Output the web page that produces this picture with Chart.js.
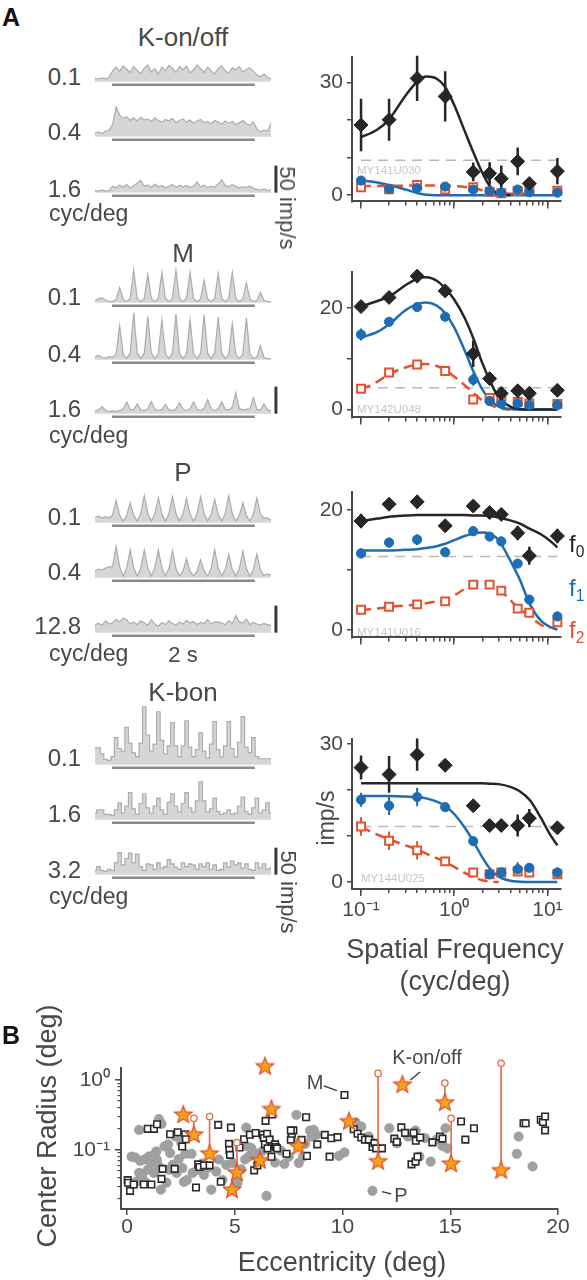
<!DOCTYPE html>
<html><head><meta charset="utf-8">
<script src="https://cdn.jsdelivr.net/npm/chart.js@4.4.1/dist/chart.umd.min.js"></script>
<style>
html,body{margin:0;padding:0;background:#fff;}
#wrap{position:relative;width:587px;height:1280px;overflow:hidden;font-family:"Liberation Sans",Arial,Helvetica,sans-serif;color:#484848;}
#wrap canvas{position:absolute;}
.t{position:absolute;white-space:nowrap;line-height:1;}
.t sub{font-size:65%;vertical-align:-0.3em;}
</style></head><body><div id="wrap"></div>
<script>
// ---------------- DATA ----------------
const T_END = 2.5;
const STIM = [0.24, 2.27];
const SCALEBAR = [0, 50];
const SCALEBAR_T = 2.57;
const KON_01 = [6,5,7,5,8, 20,27,19,29,23,17,28,21,15,25,31,18,24,14,27,20,30,25,17,28,22,29,16,22,31,24,17,27,20,14,25,29,20,16,26,22,28,18,23,26,19, 12,9,14,8,5];
const KON_04 = [7,9,6,10,12, 22,55,40,34,37,30,35,29,36,31,33,28,35,30,27,32,29,34,26,30,33,27,31,25,29,32,26,28,24,30,27,23,29,25,28,22,26,30,24,21,27, 14,9,12,10,25];
const KON_16 = [4,3,5,3,4, 12,9,14,10,15,9,13,18,23,12,14,10,16,11,13,9,12,15,10,14,11,13,10,12,20,11,14,9,12,10,16,24,13,11,15,12,9,11,10,12,8, 6,5,7,4,5];
const M_01 = [4,7,9,5,2,2,6,28,6,2,8,60,8,2,8,52,8,2,8,56,8,2,8,60,8,2,8,56,8,2,7,41,7,2,8,54,8,2,8,56,8,2,7,37,7,2,4,19,4,2,2];
const M_04 = [5,8,4,3,6,4,10,63,10,2,12,87,12,2,12,80,12,2,11,74,11,2,12,85,12,2,11,74,11,2,12,83,12,2,12,79,12,2,10,67,10,2,11,77,11,2,5,26,4,2,2];
const M_16 = [5,7,13,6,4,5,4,6,9,22,8,7,18,7,6,9,22,8,6,8,17,7,6,9,20,8,6,9,22,8,6,10,26,9,6,9,22,8,7,12,39,10,7,8,9,30,8,7,18,7,5];
const P_01 = [10,12,9,11,9,14,41,14,3,13,37,13,3,17,50,17,3,16,46,16,3,17,48,17,3,16,45,16,3,17,48,17,3,15,43,15,3,17,50,17,3,13,37,13,3,16,46,16,8,9,5];
const P_04 = [12,16,14,18,20,20,58,20,3,18,52,18,3,18,51,18,3,18,51,18,3,17,50,17,3,12,35,12,3,12,33,12,3,18,52,18,3,15,43,15,3,17,49,17,3,15,44,15,4,7,5];
const P_128 = [15,17,14,22,16,18,25,20,27,24,16,20,15,22,18,14,24,16,12,19,15,22,17,14,20,16,23,18,21,15,19,17,24,16,20,20,18,15,22,17,32,20,18,25,15,19,16,14,17,15,13];
const KB_01 = [31,31,20,10,8,15,50,30,25,69,40,22,15,40,107,55,25,38,98,45,20,35,78,35,15,35,81,32,15,28,59,25,12,38,80,28,14,35,80,30,14,42,89,32,22,50,15,11,11,11,11];
const KB_16 = [12,18,18,10,10,8,18,31,12,25,50,20,10,30,48,22,12,25,40,18,10,32,48,25,14,30,50,22,14,35,70,35,14,20,40,15,10,12,18,10,12,25,42,15,10,22,40,12,18,31,12];
const KB_32 = [8,15,8,6,10,8,22,41,18,30,40,22,38,15,8,20,18,10,22,12,15,28,20,14,10,22,15,20,18,10,20,15,22,10,18,8,10,22,14,25,18,22,12,20,10,8,22,12,20,10,12];

const SF = [0.1,0.2,0.4,0.8,1.6,2.4,3.2,4.8,6.4,12.8];
const FIT_SF = [0.1,0.15,0.2,0.3,0.4,0.5,0.65,0.8,1.0,1.3,1.6,2.0,2.4,3.0,4.0,5.0,6.5,8.5,10.5,12.8];

const KON_F0 = [18.7,20.1,31.1,26.3,6.2,5.8,4.4,9.0,3.1,6.4];
const KON_F0_ERR = [7,5.6,6,6.7,2.5,3,3.5,3.7,1.5,3.5];
const KON_F1 = [3.9,1.7,1.9,2.3,1.5,1.1,0.7,1.5,0.8,0.7];
const KON_F1_ERR = [0.5,0.4,0.4,0.5,0.4,0.3,0.3,0.4,0.3,0.3];
const KON_F2 = [2.1,1.6,2.7,1.5,2.1,0.9,0.5,1.1,1.3,1.2];
const KON_F2_ERR = [0.4,0.4,0.4,0.4,0.4,0.3,0.3,0.3,0.3,0.3];
const KON_BASE = 9.3;
const KON_FIT0 = [15.4,17.5,20.2,26.5,30.2,31.6,31.0,28.8,24.0,17.0,11.5,6.0,2.5,0.3,0,null,null,null,null,null];
const KON_FIT1 = [3.9,3.4,2.7,1.5,0.6,0.1,0,0,0,0,0,0,0,0,0,0,0,0,0,0];
const KON_FIT2 = [2.4,2.45,2.5,2.55,2.6,2.6,2.55,2.5,2.4,2.2,1.9,1.3,0.8,0.5,0.4,0.4,0.5,null,null,null];

const M_F0 = [20.3,22.1,26.3,23.4,11.0,6.1,3.2,3.7,3.2,3.8];
const M_F0_ERR = [0.8,0.6,0.6,0.6,2.6,0.8,0.5,0.5,0.5,0.5];
const M_F1 = [14.8,17.3,20.2,18.3,5.9,1.7,1.2,1.2,0.9,0.9];
const M_F1_ERR = [1.2,0.6,0.6,0.6,1.2,0.5,0.4,0.4,0.4,0.4];
const M_F2 = [4.1,7.3,8.9,7.6,2.0,2.3,1.7,1.5,1.2,1.1];
const M_F2_ERR = [0.5,0.5,0.5,0.5,0.4,0.4,0.3,0.3,0.3,0.3];
const M_BASE = 4.3;
const M_FIT0 = [20.3,21.4,22.3,24.5,25.8,26.1,25.4,23.9,21.7,18.0,14.1,9.2,5.8,2.4,0.6,0.1,0,0,0,0];
const M_FIT1 = [14.2,15.3,16.8,19.6,20.8,21.1,20.5,19.0,16.2,11.6,7.6,4.0,2.0,0.6,0.1,0,0,0,0,0];
const M_FIT2 = [4.0,5.5,7.0,8.3,8.9,9.0,8.6,7.8,6.5,4.8,3.3,1.8,1.0,0.3,0,null,null,null,null,null];

const P_F0 = [18.2,21.0,21.4,17.4,20.7,19.6,19.3,16.2,12.4,15.7];
const P_F0_ERR = [1.2,1,1.1,1,1,0.8,0.8,1.2,1.5,1.2];
const P_F1 = [12.8,14.6,15.1,13.0,16.5,15.6,14.8,11.1,5.1,2.3];
const P_F1_ERR = [0.8,0.8,0.9,0.6,0.8,0.6,0.6,0.5,0.6,0.4];
const P_F2 = [3.4,3.9,4.3,4.8,7.6,7.6,6.6,3.6,2.9,1.3];
const P_F2_ERR = [0.4,0.4,0.4,0.4,0.4,0.4,0.4,0.4,0.4,0.4];
const P_BASE = 12.3;
const P_FIT0 = [18.2,18.6,18.9,19.1,19.2,19.2,19.2,19.2,19.2,19.2,19.1,19.1,19.0,18.8,18.3,17.8,16.9,16.0,15.0,13.8];
const P_FIT1 = [13.3,13.3,13.3,13.4,13.5,13.7,14.0,14.4,15.0,15.7,16.1,16.3,16.1,15.0,11.6,8.6,4.3,1.6,0.6,0.1];
const P_FIT2 = [3.4,3.6,3.9,4.1,4.3,4.5,4.8,5.1,5.8,6.9,7.6,7.8,7.6,6.9,5.0,3.6,2.3,0.9,0.2,null];

const KB_F0 = [24.9,23.4,27.7,25.4,16.6,12.3,12.3,12.3,13.9,11.8];
const KB_F0_ERR = [2.6,4,3.5,0.8,1.2,0.8,0.8,2.4,2,0.8];
const KB_F1 = [17.9,16.6,18.5,16.3,8.9,1.7,2.1,2.8,3.1,2.1];
const KB_F1_ERR = [1.5,2,2,0.8,1,0.5,0.5,1.5,0.8,0.5];
const KB_F2 = [12.1,9.0,6.9,4.5,2.1,1.7,2.1,2.3,2.1,1.7];
const KB_F2_ERR = [2,2,2,1,1,0.5,0.4,0.4,0.4,0.4];
const KB_BASE = 12.1;
const KB_FIT0 = [21.5,21.5,21.5,21.5,21.5,21.5,21.5,21.5,21.5,21.5,21.5,21.5,21.4,21.3,20.7,19.8,17.8,14.0,10.6,8.0];
const KB_FIT1 = [18.7,18.7,18.7,18.6,18.5,18.2,17.5,16.6,14.8,11.8,8.9,5.4,3.0,1.2,0.3,0.1,0,0,0,0];
const KB_FIT2 = [12.0,10.3,9.3,8.0,7.1,6.2,5.2,4.3,3.3,2.0,1.1,0.4,0.1,0,null,null,null,null,null,null];

const X_MINOR = [0.1,0.2,0.3,0.4,0.5,0.6,0.7,0.8,0.9,1,2,3,4,5,6,7,8,9,10];
const X_MAJOR = [0.1,1,10];

const P_ECC = [0.21,0.38,0.61,0.56,0.83,1.0,1.13,1.39,1.48,1.25,0.96,0.7,0.43,0.87,1.57,1.83,1.95,2.0,2.12,2.3,2.4,2.57,2.7,2.78,2.99,3.04,1.48,1.6,0.56,1.74,1.91,2.26,1.36,2.52,2.64,1.18,
  3.3,3.57,3.48,3.74,3.91,4.14,4.26,4.43,4.61,4.9,5.13,5.3,5.53,5.48,5.65,5.57,5.77,6.0,6.26,6.47,6.57,6.78,6.87,7.13,7.3,7.51,7.65,7.86,7.97,8.17,8.26,8.49,8.66,8.78,8.56,
  9.83,10.09,10.61,10.87,11.22,11.39,11.48,12.17,12.52,13.04,13.39,13.57,13.83,14.09,14.35,14.64,14.78,14.87,18.09,18.17,18.82];
const P_RAD = [0.080,0.078,0.070,0.047,0.073,0.080,0.065,0.072,0.058,0.047,0.052,0.042,0.035,0.034,0.027,0.034,0.052,0.090,0.061,0.047,0.074,0.055,0.088,0.037,0.088,0.047,0.275,0.235,0.193,0.112,0.120,0.155,0.095,0.125,0.035,0.082,
  0.052,0.044,0.064,0.055,0.027,0.049,0.073,0.037,0.061,0.065,0.034,0.053,0.208,0.073,0.080,0.112,0.106,0.088,0.095,0.022,0.142,0.112,0.066,0.098,0.063,0.080,0.139,0.316,0.065,0.080,0.122,0.189,0.193,0.164,0.155,
  0.082,0.092,0.246,0.215,0.155,0.026,0.124,0.204,0.124,0.155,0.189,0.080,0.147,0.068,0.139,0.114,0.204,0.105,0.088,0.155,0.058];
const M_ECC = [0.03,0.05,0.14,0.31,0.78,1.13,0.96,1.25,1.39,1.6,1.65,2.21,2.0,2.35,2.56,2.7,2.73,3.2,3.3,3.36,3.57,3.83,4.23,4.35,4.82,4.73,4.75,4.78,5.22,5.43,5.7,5.97,5.9,6.05,6.3,6.35,6.5,6.43,6.4,6.52,6.62,6.87,6.9,6.73,6.7,6.96,7.4,7.6,7.65,7.72,7.6,8.1,8.31,8.35,8.83,9.18,9.4,9.48,9.77,10.09,10.52,10.7,10.87,11.04,11.22,11.39,11.48,11.56,11.83,12.4,12.52,12.73,12.9,13.3,13.4,13.6,13.2,13.39,13.48,14.17,14.52,14.64,15.5,15.7,16.1,18.4,18.5,19.2,19.3,19.4,19.4];
const M_RAD = [0.037,0.034,0.026,0.032,0.032,0.032,0.2,0.2,0.233,0.0385,0.0535,0.0535,0.167,0.179,0.112,0.167,0.142,0.029,0.062,0.057,0.06,0.06,0.228,0.035,0.208,0.122,0.1,0.085,0.108,0.142,0.165,0.174,0.051,0.06,0.165,0.148,0.17,0.26,0.12,0.105,0.14,0.12,0.11,0.32,0.08,0.105,0.088,0.14,0.17,0.19,0.19,0.139,0.293,0.082,0.12,0.164,0.08,0.147,0.152,0.61,0.197,0.17,0.15,0.14,0.14,0.11,0.125,0.105,0.105,0.145,0.13,0.21,0.175,0.175,0.135,0.15,0.062,0.068,0.08,0.128,0.155,0.145,0.254,0.14,0.204,0.24,0.24,0.27,0.25,0.3,0.19];
const K_ECC = [6.4,12.78,14.75,2.61,6.7,10.3,3.1,3.83,7.95,6.17,11.65,15.04,5.1,17.36,4.87];
const K_RAD = [1.55,0.85,0.47,0.316,0.38,0.254,0.164,0.088,0.112,0.0705,0.068,0.063,0.047,0.0507,0.0268];
const LINK_ECC = [3.1,3.83,5.1,11.65,14.75,15.04,17.36];
const LINK_FROM = [0.164,0.088,0.047,0.068,0.47,0.063,0.0507];
const LINK_TO = [0.283,0.30,0.127,1.24,0.90,0.283,1.73];
const LEAD_KON_ECC = [13.6,13.15], LEAD_KON_RAD = [1.3,1.0];
const LEAD_M_ECC = [9.13,9.74], LEAD_M_RAD = [0.82,0.704];
const LEAD_P_ECC = [11.83,12.26], LEAD_P_RAD = [0.0254,0.0236];
const ECC_TICKS = [0,5,10,15,20];
const RAD_MINOR = [0.02,0.03,0.04,0.05,0.06,0.07,0.08,0.09,0.1,0.2,0.3,0.4,0.5,0.6,0.7,0.8,0.9,1];
const RAD_MAJOR = [0.1,1];

// ---------------- RENDER ----------------
const wrap = document.getElementById('wrap');
const FONT = '"Liberation Sans", Arial, Helvetica, sans-serif';
const INK = '#484848', AX = '#4a4a4a';
const BLACK = '#262626', BLUE = '#1c6db4', RED = '#e2532b';
Chart.defaults.font.family = FONT;
Chart.defaults.color = INK;

function cv(l,t,w,h){const c=document.createElement('canvas');c.width=w;c.height=h;c.style.left=l+'px';c.style.top=t+'px';c.style.width=w+'px';c.style.height=h+'px';wrap.appendChild(c);return c;}
function txt(s,x,y,size,o={}){const d=document.createElement('div');d.className='t';d.innerHTML=s;d.style.fontSize=size+'px';d.style.left=x+'px';d.style.top=y+'px';
  const ax=o.align==='l'?'0%':o.align==='r'?'-100%':'-50%';
  d.style.transform=o.rot?`translate(-50%,-50%) rotate(${o.rot}deg)`:`translate(${ax},-50%)`;
  if(o.color)d.style.color=o.color; if(o.bold)d.style.fontWeight='bold'; wrap.appendChild(d);}
const base = {responsive:false, animation:false, events:[], plugins:{legend:{display:false}, tooltip:{enabled:false}}};
const supLab = v => v===0.1?'10⁻¹':v===1?'10⁰':v===10?'10¹':'';

const PX_PER_IMP = 0.54, PX_PER_S = 70.4, PSTH_LEFT = 95, PSTH_W = 185;
const PSTH_YMIN = -8, PSTH_YMAX = 119.8, STIM_Y = -6;
function psth(vals, baseY, stepped, scale){
  const H = Math.round((PSTH_YMAX-PSTH_YMIN)*PX_PER_IMP);
  const c = cv(PSTH_LEFT, Math.round(baseY - PSTH_YMAX*PX_PER_IMP), PSTH_W, H);
  const dt = T_END/(vals.length-1);
  const ds = [
    {data: vals.map((v,i)=>({x:i*dt,y:v})), borderColor:'#acacac', backgroundColor:'#d6d6d6', borderWidth:1.2, fill:'origin', stepped: stepped?'middle':false, pointRadius:0, tension:0},
    {data: STIM.map(t=>({x:t,y:STIM_Y})), borderColor:'#8a8a8a', borderWidth:3, pointRadius:0, fill:false}
  ];
  if(scale) ds.push({data: SCALEBAR.map(v=>({x:SCALEBAR_T,y:v})), borderColor:'#3a3a3a', borderWidth:3, pointRadius:0, fill:false});
  new Chart(c,{type:'line', data:{datasets:ds}, options:{...base, layout:{padding:0},
    scales:{x:{type:'linear',display:false,min:0,max:PSTH_W/PX_PER_S}, y:{display:false,min:PSTH_YMIN,max:PSTH_YMAX}}}});
}
const GROUPS = [
  {title:'K-on/off', ty:37, rows:[[KON_01,'0.1',82,77],[KON_04,'0.4',137,132],[KON_16,'1.6',193,189]], cyc:215, step:false},
  {title:'M', ty:253, rows:[[M_01,'0.1',303,297],[M_04,'0.4',360,354],[M_16,'1.6',414,409]], cyc:437, step:false},
  {title:'P', ty:472, rows:[[P_01,'0.1',523,517],[P_04,'0.4',578,572],[P_128,'12.8',633,626]], cyc:655, step:false},
  {title:'K-bon', ty:692, rows:[[KB_01,'0.1',765,758],[KB_16,'1.6',820,814],[KB_32,'3.2',875,870]], cyc:898, step:true},
];
GROUPS.forEach(g=>{
  txt(g.title,183,g.ty,26);
  g.rows.forEach((r,i)=>{ psth(r[0], r[2], g.step, i===2); txt(r[1],81,r[3],24,{align:'r'}); });
  txt('cyc/deg',49,g.cyc-2.4,23,{align:'l'});
});
txt('2 s',183,655,22);
txt('50 imp/s',287,208,22,{rot:90});
txt('50 imp/s',288,892,22,{rot:90});

function tuning(p){
  const top = p.areaTop-10, bottomH = p.showX?42:12;
  const c = cv(300, top, 287, Math.round(p.areaBottom-top+bottomH));
  const pts = ys=>SF.map((s,i)=>({x:s,y:ys[i]}));
  const err = (ys,es)=>SF.flatMap((s,i)=>[{x:s,y:ys[i]-es[i]},{x:s,y:ys[i]+es[i]},{x:s,y:null}]);
  const fit = ys=>FIT_SF.map((s,i)=>({x:s,y:ys[i]}));
  const ds = [
    {data:pts(p.f0), pointStyle:'rectRot', pointRadius:7, backgroundColor:BLACK, borderColor:BLACK, borderWidth:1},
    {data:pts(p.f1), pointStyle:'circle', pointRadius:4.6, backgroundColor:BLUE, borderColor:BLUE, borderWidth:1},
    {data:pts(p.f2), pointStyle:'rect', pointRadius:5.6, backgroundColor:'#fff', borderColor:RED, borderWidth:2},
    {data:err(p.f0,p.f0e), showLine:true, borderColor:BLACK, borderWidth:2.5, pointRadius:0},
    {data:err(p.f1,p.f1e), showLine:true, borderColor:BLUE, borderWidth:2, pointRadius:0},
    {data:err(p.f2,p.f2e), showLine:true, borderColor:RED, borderWidth:2, pointRadius:0},
    {data:fit(p.fit0), showLine:true, borderColor:BLACK, borderWidth:2.5, pointRadius:0, cubicInterpolationMode:'monotone'},
    {data:fit(p.fit1), showLine:true, borderColor:BLUE, borderWidth:2.5, pointRadius:0, cubicInterpolationMode:'monotone'},
    {data:fit(p.fit2), showLine:true, borderColor:RED, borderWidth:2.5, borderDash:[10,6], pointRadius:0, cubicInterpolationMode:'monotone'},
    {data:[{x:SF[0],y:p.base},{x:SF[SF.length-1],y:p.base}], showLine:true, borderColor:'#b8b8b8', borderWidth:1.5, borderDash:[10,7], pointRadius:0},
  ].map(d=>({clip:false,...d}));
  const tf = {family:FONT,size:21};
  new Chart(c,{type:'scatter', data:{datasets:ds}, options:{...base, layout:{padding:{top:10,right:26,left:0,bottom:0}},
    scales:{
      x:{type:'logarithmic',position:'bottom',min:0.08,max:14, afterBuildTicks:s=>{s.ticks=X_MINOR.map(v=>({value:v}));}, afterFit:s=>{s.height=0;},
         ticks:{display:false,autoSkip:false}, grid:{drawOnChartArea:false,drawTicks:true,tickLength:4,color:AX,lineWidth:1.5}, border:{display:true,color:AX,width:2}},
      x2:{type:'logarithmic',position:'bottom',min:0.08,max:14, afterBuildTicks:s=>{s.ticks=X_MAJOR.map(v=>({value:v}));}, afterFit:s=>{s.height=bottomH;},
         ticks:{display:!!p.showX,autoSkip:false,maxRotation:0,padding:2,font:tf,color:INK,callback:v=>supLab(v)}, grid:{drawOnChartArea:false,drawTicks:true,tickLength:7,color:AX,lineWidth:1.5}, border:{display:false}},
      y:{type:'linear',position:'left',min:p.ymin,max:p.ymax, afterBuildTicks:s=>{s.ticks=p.yTicks.map(v=>({value:v}));}, afterFit:s=>{s.width=52;},
         ticks:{autoSkip:false,padding:4,font:tf,color:INK,callback:v=>p.yLabels.includes(v)?String(v):''}, grid:{drawOnChartArea:false,drawTicks:true,tickLength:5,color:AX,lineWidth:1.5}, border:{display:true,color:AX,width:2}}
    }}});
}
tuning({areaTop:50, areaBottom:206, ymin:-1.65, ymax:36.9, yTicks:[0,10,20,30], yLabels:[0,30],
  f0:KON_F0,f0e:KON_F0_ERR,f1:KON_F1,f1e:KON_F1_ERR,f2:KON_F2,f2e:KON_F2_ERR,base:KON_BASE,fit0:KON_FIT0,fit1:KON_FIT1,fit2:KON_FIT2});
tuning({areaTop:265, areaBottom:422, ymin:-1.54, ymax:27.2, yTicks:[0,10,20], yLabels:[0,20],
  f0:M_F0,f0e:M_F0_ERR,f1:M_F1,f1e:M_F1_ERR,f2:M_F2,f2e:M_F2_ERR,base:M_BASE,fit0:M_FIT0,fit1:M_FIT1,fit2:M_FIT2});
tuning({areaTop:485, areaBottom:642, ymin:-1.2, ymax:23.1, yTicks:[0,10,20], yLabels:[0,20],
  f0:P_F0,f0e:P_F0_ERR,f1:P_F1,f1e:P_F1_ERR,f2:P_F2,f2e:P_F2_ERR,base:P_BASE,fit0:P_FIT0,fit1:P_FIT1,fit2:P_FIT2});
tuning({areaTop:732, areaBottom:889, ymin:-1.5, ymax:31.2, yTicks:[0,10,20,30], yLabels:[0,30], showX:true,
  f0:KB_F0,f0e:KB_F0_ERR,f1:KB_F1,f1e:KB_F1_ERR,f2:KB_F2,f2e:KB_F2_ERR,base:KB_BASE,fit0:KB_FIT0,fit1:KB_FIT1,fit2:KB_FIT2});
const IDC = '#c6c6c6';
txt('MY141U030',357,171,11.5,{align:'l',color:IDC});
txt('MY142U048',357,410,11.5,{align:'l',color:IDC});
txt('MY141U016',357,633,11.5,{align:'l',color:IDC});
txt('MY144U025',361,879,11.5,{align:'l',color:IDC});
txt('f<sub>0</sub>',569,546,24,{align:'l',color:BLACK});
txt('f<sub>1</sub>',569,590,24,{align:'l',color:BLUE});
txt('f<sub>2</sub>',569,632,24,{align:'l',color:RED});
txt('imp/s',326,818,23,{rot:-90});
txt('Spatial Frequency',455,949,27);
txt('(cyc/deg)',455,981,27);
txt('A',11,17,25,{bold:true,color:'#111'});

function starImg(){const c=document.createElement('canvas');c.width=c.height=22;const g=c.getContext('2d');g.beginPath();
  for(let i=0;i<10;i++){const r=i%2?3.9:9.2;const a=-Math.PI/2+i*Math.PI/5;g.lineTo(11+r*Math.cos(a),11+r*Math.sin(a));}
  g.closePath();g.fillStyle='#f9a11c';g.fill();g.strokeStyle='#e04e25';g.lineWidth=1.2;g.stroke();return c;}
(function(){
  const c = cv(0,1040,587,240);
  const xy = (xs,ys)=>xs.map((x,i)=>({x,y:ys[i]}));
  const links = LINK_ECC.flatMap((e,i)=>[{x:e,y:LINK_FROM[i]},{x:e,y:LINK_TO[i]},{x:e,y:null}]);
  const lead = {showLine:true,borderColor:'#333',borderWidth:1.3,pointRadius:0};
  const ds = [
    {data:xy(K_ECC,K_RAD), pointStyle:starImg(), pointRadius:9},
    {data:xy(LINK_ECC,LINK_TO), pointStyle:'circle', pointRadius:3.2, backgroundColor:'#fff', borderColor:'#e8683f', borderWidth:1.3},
    {data:links, showLine:true, borderColor:'#e8683f', borderWidth:1.6, pointRadius:0},
    {data:xy(LEAD_KON_ECC,LEAD_KON_RAD), ...lead},
    {data:xy(LEAD_M_ECC,LEAD_M_RAD), ...lead},
    {data:xy(LEAD_P_ECC,LEAD_P_RAD), ...lead},
    {data:xy(M_ECC,M_RAD), pointStyle:'rect', pointRadius:4.6, backgroundColor:'#fff', borderColor:'#2a2a2a', borderWidth:1.6},
    {data:xy(P_ECC,P_RAD), pointStyle:'circle', pointRadius:4.8, backgroundColor:'#a0a0a0', borderColor:'#989898', borderWidth:0.5},
  ].map(d=>({clip:false,...d}));
  const tf = {family:FONT,size:21};
  new Chart(c,{type:'scatter', data:{datasets:ds}, options:{...base, layout:{padding:{top:28,right:29,left:0,bottom:0}},
    scales:{
      x:{type:'linear',position:'bottom',min:-0.28,max:20, afterBuildTicks:s=>{s.ticks=ECC_TICKS.map(v=>({value:v}));}, afterFit:s=>{s.height=71;},
         ticks:{autoSkip:false,maxRotation:0,padding:0,font:tf,color:INK}, grid:{drawOnChartArea:false,drawTicks:true,tickLength:6,color:AX,lineWidth:1.5}, border:{display:true,color:AX,width:2}},
      y:{type:'logarithmic',position:'left',min:0.0143,max:1.48, afterBuildTicks:s=>{s.ticks=RAD_MINOR.map(v=>({value:v}));}, afterFit:s=>{s.width=0;},
         ticks:{display:false,autoSkip:false}, grid:{drawOnChartArea:false,drawTicks:true,tickLength:3.5,color:AX,lineWidth:1.2}, border:{display:true,color:AX,width:2}},
      y2:{type:'logarithmic',position:'left',min:0.0143,max:1.48, afterBuildTicks:s=>{s.ticks=RAD_MAJOR.map(v=>({value:v}));}, afterFit:s=>{s.width=121;},
         ticks:{autoSkip:false,padding:5,font:tf,color:INK,callback:v=>supLab(v)}, grid:{drawOnChartArea:false,drawTicks:true,tickLength:6,color:AX,lineWidth:1.5}, border:{display:false}}
    }}});
})();
txt('B',11,1035,25,{bold:true,color:'#111'});
txt('K-on/off',427,1057,20);
txt('M',315,1082,20);
txt('P',401,1195,20);
txt('Center Radius (deg)',47,1126,27,{rot:-90});
txt('Eccentricity (deg)',342,1262,27);
</script></body></html>
